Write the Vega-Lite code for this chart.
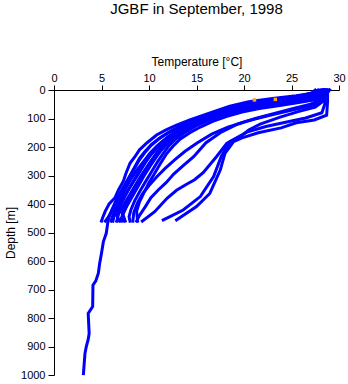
{
"$schema": "https://vega.github.io/schema/vega-lite/v6.json",
"width": 285, "height": 285,
"autosize": "none",
"padding": {"left": 54, "top": 90, "right": 9, "bottom": 9},
"background": "white",
"title": {"text": "JGBF in September, 1998", "font": "Liberation Sans", "fontSize": 15, "fontWeight": "normal", "anchor": "middle", "offset": 38, "color": "black"},
"config": {"view": {"stroke": null}, "axis": {"labelFont": "Liberation Sans", "titleFont": "Liberation Sans", "labelFontSize": 11, "titleFontSize": 12, "titleFontWeight": "normal", "domainColor": "black", "tickColor": "black", "labelColor": "black", "titleColor": "black", "grid": false}},
"encoding": {
"x": {"field": "t", "type": "quantitative", "scale": {"domain": [0, 30], "nice": false}, "axis": {"orient": "top", "values": [0,5,10,15,20,25,30], "title": "Temperature [°C]", "tickSize": 5, "labelPadding": 2, "titlePadding": 4, "labelFlush": false, "labelOverlap": false}},
"y": {"field": "d", "type": "quantitative", "scale": {"domain": [0, 1000], "reverse": true, "nice": false}, "axis": {"values": [0,100,200,300,400,500,600,700,800,900,1000], "format": "d", "title": "Depth [m]", "tickSize": 6, "labelPadding": 3, "titlePadding": 3, "labelFlush": false, "labelOverlap": false}}
},
"layer": [
{"data": {"values": [
{"p":0,"t":28.2,"d":0},{"p":0,"t":27.8,"d":12},{"p":0,"t":26,"d":22},{"p":0,"t":23.5,"d":33},{"p":0,"t":21,"d":45},{"p":0,"t":19,"d":60},{"p":0,"t":17.2,"d":80},{"p":0,"t":15,"d":105},{"p":0,"t":13.5,"d":125},{"p":0,"t":12.3,"d":145},{"p":0,"t":11.3,"d":165},{"p":0,"t":10.3,"d":190},{"p":0,"t":9.6,"d":215},{"p":0,"t":9,"d":240},{"p":0,"t":8.5,"d":270},{"p":0,"t":8,"d":300},{"p":0,"t":7.5,"d":330},{"p":0,"t":7,"d":360},{"p":0,"t":6.5,"d":390},{"p":0,"t":6.1,"d":420},{"p":0,"t":5.8,"d":445},{"p":0,"t":5.7,"d":456},{"p":0,"t":5.5,"d":503},{"p":0,"t":5.2,"d":532},{"p":0,"t":5.0,"d":573},{"p":0,"t":4.8,"d":610},{"p":0,"t":4.67,"d":643},{"p":0,"t":4.4,"d":670},{"p":0,"t":4.1,"d":685},{"p":0,"t":4.07,"d":760},{"p":0,"t":3.6,"d":784},{"p":0,"t":3.7,"d":854},{"p":0,"t":3.6,"d":875},{"p":0,"t":3.4,"d":900},{"p":0,"t":3.26,"d":924},{"p":0,"t":3.1,"d":995},
{"p":1,"t":28,"d":0},{"p":1,"t":27.6,"d":10},{"p":1,"t":25.5,"d":20},{"p":1,"t":23,"d":30},{"p":1,"t":20.5,"d":41},{"p":1,"t":18.5,"d":57},{"p":1,"t":16.8,"d":76},{"p":1,"t":14.3,"d":105},{"p":1,"t":12.9,"d":123},{"p":1,"t":11.8,"d":140},{"p":1,"t":10.8,"d":158},{"p":1,"t":9.8,"d":185},{"p":1,"t":9,"d":210},{"p":1,"t":8.5,"d":235},{"p":1,"t":8,"d":257},{"p":1,"t":7.6,"d":290},{"p":1,"t":7.3,"d":320},{"p":1,"t":6.8,"d":350},{"p":1,"t":6.4,"d":379},{"p":1,"t":5.8,"d":400},{"p":1,"t":5.4,"d":425},{"p":1,"t":5.1,"d":450},{"p":1,"t":5.0,"d":460},
{"p":2,"t":28.5,"d":0},{"p":2,"t":28.1,"d":10},{"p":2,"t":26.8,"d":22},{"p":2,"t":24.6,"d":34},{"p":2,"t":22,"d":47},{"p":2,"t":19.8,"d":60},{"p":2,"t":18,"d":75},{"p":2,"t":16.5,"d":92},{"p":2,"t":15,"d":112},{"p":2,"t":13.8,"d":132},{"p":2,"t":12.7,"d":155},{"p":2,"t":11.7,"d":178},{"p":2,"t":10.9,"d":202},{"p":2,"t":10.2,"d":228},{"p":2,"t":9.6,"d":256},{"p":2,"t":9,"d":288},{"p":2,"t":8.4,"d":320},{"p":2,"t":7.8,"d":352},{"p":2,"t":7.2,"d":385},{"p":2,"t":6.7,"d":418},{"p":2,"t":6.3,"d":445},{"p":2,"t":6.2,"d":460},
{"p":3,"t":29,"d":0},{"p":3,"t":28.6,"d":12},{"p":3,"t":27.5,"d":22},{"p":3,"t":25.5,"d":33},{"p":3,"t":23,"d":45},{"p":3,"t":20.8,"d":57},{"p":3,"t":19,"d":70},{"p":3,"t":17.4,"d":86},{"p":3,"t":16,"d":104},{"p":3,"t":14.6,"d":124},{"p":3,"t":13.4,"d":145},{"p":3,"t":12.4,"d":168},{"p":3,"t":11.6,"d":192},{"p":3,"t":10.9,"d":218},{"p":3,"t":10.3,"d":245},{"p":3,"t":9.7,"d":275},{"p":3,"t":9.1,"d":305},{"p":3,"t":8.5,"d":338},{"p":3,"t":7.9,"d":372},{"p":3,"t":7.3,"d":405},{"p":3,"t":6.8,"d":435},{"p":3,"t":6.6,"d":460},
{"p":4,"t":28.2,"d":0},{"p":4,"t":27.8,"d":8},{"p":4,"t":26.8,"d":18},{"p":4,"t":25,"d":28},{"p":4,"t":22.5,"d":40},{"p":4,"t":20.3,"d":52},{"p":4,"t":18.5,"d":66},{"p":4,"t":17,"d":82},{"p":4,"t":15.6,"d":100},{"p":4,"t":14.3,"d":120},{"p":4,"t":13.1,"d":142},{"p":4,"t":12,"d":165},{"p":4,"t":11.1,"d":190},{"p":4,"t":10.4,"d":215},{"p":4,"t":9.8,"d":242},{"p":4,"t":9.2,"d":272},{"p":4,"t":8.6,"d":305},{"p":4,"t":8,"d":340},{"p":4,"t":7.4,"d":378},{"p":4,"t":6.9,"d":412},{"p":4,"t":6.6,"d":440},{"p":4,"t":6.9,"d":460},
{"p":5,"t":28.8,"d":0},{"p":5,"t":28.4,"d":15},{"p":5,"t":27.6,"d":25},{"p":5,"t":26,"d":35},{"p":5,"t":24,"d":45},{"p":5,"t":21.8,"d":56},{"p":5,"t":19.8,"d":68},{"p":5,"t":18.1,"d":83},{"p":5,"t":16.6,"d":100},{"p":5,"t":15.2,"d":120},{"p":5,"t":14,"d":140},{"p":5,"t":12.9,"d":162},{"p":5,"t":12,"d":185},{"p":5,"t":11.3,"d":210},{"p":5,"t":10.7,"d":238},{"p":5,"t":10.1,"d":268},{"p":5,"t":9.5,"d":300},{"p":5,"t":8.9,"d":335},{"p":5,"t":8.3,"d":370},{"p":5,"t":7.7,"d":405},{"p":5,"t":7.2,"d":438},{"p":5,"t":7.3,"d":460},
{"p":6,"t":27.5,"d":0},{"p":6,"t":27.1,"d":10},{"p":6,"t":25.8,"d":22},{"p":6,"t":23.8,"d":33},{"p":6,"t":21.5,"d":45},{"p":6,"t":19.5,"d":58},{"p":6,"t":17.8,"d":74},{"p":6,"t":16.2,"d":92},{"p":6,"t":14.8,"d":112},{"p":6,"t":13.6,"d":132},{"p":6,"t":12.5,"d":152},{"p":6,"t":11.6,"d":175},{"p":6,"t":10.8,"d":198},{"p":6,"t":10.1,"d":222},{"p":6,"t":9.4,"d":252},{"p":6,"t":8.7,"d":282},{"p":6,"t":8.1,"d":312},{"p":6,"t":7.6,"d":342},{"p":6,"t":7.1,"d":375},{"p":6,"t":6.6,"d":410},{"p":6,"t":6.2,"d":440},{"p":6,"t":6.0,"d":460},
{"p":7,"t":28.6,"d":0},{"p":7,"t":28.3,"d":12},{"p":7,"t":27.8,"d":22},{"p":7,"t":26.7,"d":32},{"p":7,"t":25,"d":42},{"p":7,"t":23,"d":52},{"p":7,"t":21,"d":62},{"p":7,"t":19.3,"d":74},{"p":7,"t":17.8,"d":88},{"p":7,"t":16.3,"d":106},{"p":7,"t":15,"d":125},{"p":7,"t":13.9,"d":146},{"p":7,"t":12.9,"d":170},{"p":7,"t":12.1,"d":195},{"p":7,"t":11.5,"d":222},{"p":7,"t":10.9,"d":252},{"p":7,"t":10.3,"d":285},{"p":7,"t":9.7,"d":318},{"p":7,"t":9.1,"d":352},{"p":7,"t":8.5,"d":388},{"p":7,"t":8.1,"d":420},{"p":7,"t":7.9,"d":445},{"p":7,"t":8.0,"d":460},
{"p":8,"t":28.3,"d":0},{"p":8,"t":27.9,"d":10},{"p":8,"t":27,"d":20},{"p":8,"t":25.4,"d":30},{"p":8,"t":23.2,"d":40},{"p":8,"t":21,"d":50},{"p":8,"t":19.1,"d":62},{"p":8,"t":17.5,"d":77},{"p":8,"t":16.1,"d":95},{"p":8,"t":14.8,"d":115},{"p":8,"t":13.7,"d":136},{"p":8,"t":12.7,"d":158},{"p":8,"t":11.8,"d":182},{"p":8,"t":11.1,"d":208},{"p":8,"t":10.5,"d":236},{"p":8,"t":9.9,"d":265},{"p":8,"t":9.3,"d":296},{"p":8,"t":8.7,"d":330},{"p":8,"t":8.1,"d":365},{"p":8,"t":7.6,"d":400},{"p":8,"t":7.2,"d":432},{"p":8,"t":7.5,"d":460},
{"p":9,"t":29,"d":0},{"p":9,"t":28.7,"d":15},{"p":9,"t":28.3,"d":25},{"p":9,"t":27.3,"d":35},{"p":9,"t":25.6,"d":45},{"p":9,"t":23.6,"d":55},{"p":9,"t":21.6,"d":65},{"p":9,"t":19.8,"d":77},{"p":9,"t":18.2,"d":92},{"p":9,"t":16.7,"d":110},{"p":9,"t":15.4,"d":130},{"p":9,"t":14.3,"d":150},{"p":9,"t":13.3,"d":172},{"p":9,"t":12.5,"d":198},{"p":9,"t":11.8,"d":226},{"p":9,"t":11.2,"d":258},{"p":9,"t":10.6,"d":292},{"p":9,"t":10,"d":325},{"p":9,"t":9.5,"d":358},{"p":9,"t":9,"d":392},{"p":9,"t":8.7,"d":425},{"p":9,"t":8.8,"d":460},
{"p":10,"t":27.8,"d":0},{"p":10,"t":27.3,"d":10},{"p":10,"t":26,"d":20},{"p":10,"t":24,"d":30},{"p":10,"t":21.5,"d":42},{"p":10,"t":19.5,"d":55},{"p":10,"t":17.8,"d":72},{"p":10,"t":16,"d":90},{"p":10,"t":14.5,"d":108},{"p":10,"t":13.2,"d":128},{"p":10,"t":12,"d":150},{"p":10,"t":11,"d":172},{"p":10,"t":10.2,"d":195},{"p":10,"t":9.5,"d":222},{"p":10,"t":8.9,"d":250},{"p":10,"t":8.3,"d":285},{"p":10,"t":7.7,"d":320},{"p":10,"t":7.1,"d":355},{"p":10,"t":6.6,"d":390},{"p":10,"t":6.1,"d":425},{"p":10,"t":5.6,"d":452},{"p":10,"t":5.4,"d":460},
{"p":11,"t":28.4,"d":0},{"p":11,"t":28.1,"d":10},{"p":11,"t":27.4,"d":20},{"p":11,"t":26.2,"d":30},{"p":11,"t":24.4,"d":40},{"p":11,"t":22.4,"d":50},{"p":11,"t":20.5,"d":60},{"p":11,"t":18.8,"d":72},{"p":11,"t":17.3,"d":86},{"p":11,"t":15.9,"d":103},{"p":11,"t":14.6,"d":122},{"p":11,"t":13.5,"d":142},{"p":11,"t":12.6,"d":164},{"p":11,"t":11.9,"d":188},{"p":11,"t":11.2,"d":214},{"p":11,"t":10.5,"d":243},{"p":11,"t":9.9,"d":273},{"p":11,"t":9.3,"d":305},{"p":11,"t":8.7,"d":340},{"p":11,"t":8.1,"d":375},{"p":11,"t":7.6,"d":410},{"p":11,"t":7.2,"d":440},{"p":11,"t":7.0,"d":460},
{"p":12,"t":28.6,"d":0},{"p":12,"t":28.4,"d":30},{"p":12,"t":27.9,"d":48},{"p":12,"t":26.5,"d":60},{"p":12,"t":24.5,"d":75},{"p":12,"t":22.3,"d":92},{"p":12,"t":20.2,"d":110},{"p":12,"t":18.3,"d":130},{"p":12,"t":16.6,"d":155},{"p":12,"t":15.1,"d":185},{"p":12,"t":13.8,"d":215},{"p":12,"t":12.7,"d":245},{"p":12,"t":11.7,"d":275},{"p":12,"t":10.8,"d":305},{"p":12,"t":10,"d":335},{"p":12,"t":9.3,"d":365},{"p":12,"t":8.8,"d":395},{"p":12,"t":8.4,"d":430},{"p":12,"t":8.3,"d":460},
{"p":13,"t":28.4,"d":0},{"p":13,"t":28.1,"d":35},{"p":13,"t":27,"d":50},{"p":13,"t":25.2,"d":65},{"p":13,"t":23.2,"d":82},{"p":13,"t":21.2,"d":100},{"p":13,"t":19.3,"d":120},{"p":13,"t":17.5,"d":150},{"p":13,"t":16,"d":185},{"p":13,"t":14.7,"d":234},{"p":13,"t":13.6,"d":265},{"p":13,"t":12.6,"d":295},{"p":13,"t":11.8,"d":325},{"p":13,"t":11,"d":350},{"p":13,"t":10.2,"d":378},{"p":13,"t":9.6,"d":410},{"p":13,"t":9,"d":440},{"p":13,"t":8.7,"d":460},
{"p":14,"t":28.5,"d":0},{"p":14,"t":28.3,"d":40},{"p":14,"t":27.5,"d":60},{"p":14,"t":25.8,"d":75},{"p":14,"t":23.8,"d":95},{"p":14,"t":21.7,"d":120},{"p":14,"t":20.5,"d":140},{"p":14,"t":19.6,"d":165},{"p":14,"t":18.2,"d":187},{"p":14,"t":17.1,"d":234},{"p":14,"t":15.7,"d":290},{"p":14,"t":14.8,"d":315},{"p":14,"t":14,"d":330},{"p":14,"t":12.9,"d":352},{"p":14,"t":11.9,"d":380},{"p":14,"t":10.6,"d":427},{"p":14,"t":9.3,"d":460},
{"p":15,"t":28.6,"d":0},{"p":15,"t":28.5,"d":50},{"p":15,"t":28.2,"d":80},{"p":15,"t":26.5,"d":98},{"p":15,"t":24.5,"d":112},{"p":15,"t":22.3,"d":128},{"p":15,"t":20.3,"d":148},{"p":15,"t":18.5,"d":181},{"p":15,"t":17.6,"d":234},{"p":15,"t":16.8,"d":304},{"p":15,"t":15.4,"d":374},{"p":15,"t":13.6,"d":421},{"p":15,"t":11.5,"d":456},
{"p":16,"t":28.8,"d":0},{"p":16,"t":28.8,"d":40},{"p":16,"t":28.7,"d":88},{"p":16,"t":27.4,"d":105},{"p":16,"t":25.5,"d":115},{"p":16,"t":23.9,"d":133},{"p":16,"t":21.5,"d":150},{"p":16,"t":19.8,"d":168},{"p":16,"t":18.9,"d":181},{"p":16,"t":18,"d":222},{"p":16,"t":17.5,"d":281},{"p":16,"t":16.4,"d":363},{"p":16,"t":15,"d":409},{"p":16,"t":12.9,"d":456}
]},
"mark": {"type": "line", "color": "#0000FF", "strokeWidth": 3, "strokeCap": "square"},
"encoding": {
"detail": {"field": "p", "type": "nominal"},
"order": {"field": "d", "type": "quantitative"}
}},
{"data": {"values": [{"t": 21.1, "d": 35}, {"t": 23.3, "d": 33}]},
"mark": {"type": "point", "shape": "square", "filled": true, "size": 12, "color": "#FFA500", "opacity": 1}}
]
}
